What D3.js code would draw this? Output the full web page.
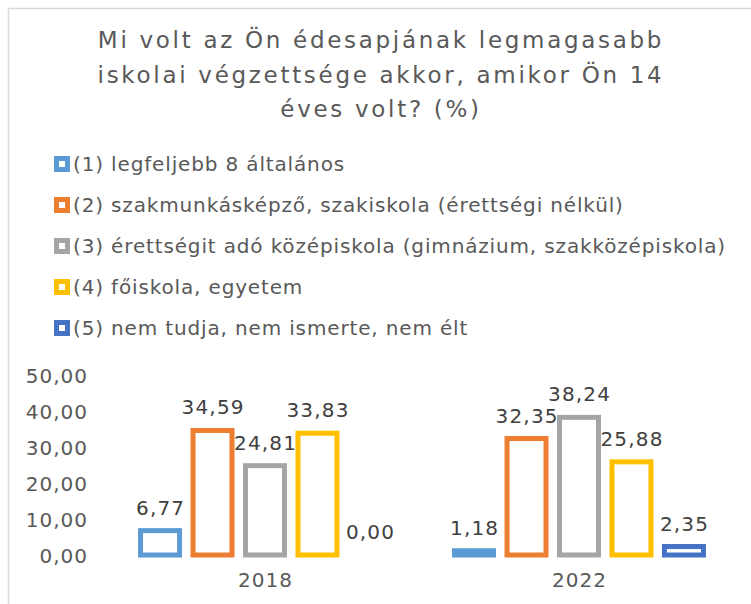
<html>
<head>
    <script src="https://d3js.org/d3.v7.min.js"></script>
    <style>
        body { margin: 0; background: #fff; }
        svg text { font-family: "DejaVu Sans", Verdana, sans-serif; }
        .axis path, .axis line { display: none; }
        .axis text { fill: #595959; font-size: 20px; letter-spacing: 1px; }
    </style>
</head>
<body>
<script>
    var titleLines = ["Mi volt az Ön édesapjának legmagasabb",
                      "iskolai végzettsége akkor, amikor Ön 14",
                      "éves volt? (%)"];
    var years = ["2018", "2022"];
    var series = ["(1) legfeljebb 8 általános",
                  "(2) szakmunkásképző, szakiskola (érettségi nélkül)",
                  "(3) érettségit adó középiskola (gimnázium, szakközépiskola)",
                  "(4) főiskola, egyetem",
                  "(5) nem tudja, nem ismerte, nem élt"];
    var colors = ["#5B9BD5", "#ED7D31", "#A5A5A5", "#FFC000", "#4472C4"];
    var values2018 = [6.77, 34.59, 24.81, 33.83, 0.00];
    var values2022 = [1.18, 32.35, 38.24, 25.88, 2.35];
    var yTicks = [0, 10, 20, 30, 40, 50];

    var values = [values2018, values2022];

    var width = 751, height = 604;

    var hu = d3.formatLocale({decimal: ",", thousands: " ", grouping: [3], currency: ["", " Ft"]});
    var fmt = hu.format(".2f");

    var svg = d3.select("body").append("svg")
        .attr("width", width)
        .attr("height", height);

    // chart frame (only top/left visible in the crop)
    svg.append("rect")
        .attr("x", 8.5).attr("y", 8.5)
        .attr("width", 800).attr("height", 700)
        .attr("fill", "none")
        .attr("stroke", "#d9d9d9")
        .attr("stroke-width", 1.5);

    // title
    svg.append("g").selectAll("text")
        .data(titleLines)
        .enter().append("text")
        .attr("x", 381)
        .attr("y", function (d, i) { return 48 + i * 34.5; })
        .attr("text-anchor", "middle")
        .attr("fill", "#595959")
        .style("font-size", "23px")
        .style("letter-spacing", "2.7px")
        .text(function (d) { return d; });

    // legend
    var legend = svg.append("g").selectAll("g")
        .data(series)
        .enter().append("g")
        .attr("transform", function (d, i) {
            return "translate(54," + (164 + i * 41) + ")";
        });

    legend.append("rect")
        .attr("x", 2.5).attr("y", -5.5)
        .attr("width", 11).attr("height", 11)
        .attr("fill", "#fff")
        .attr("stroke", function (d, i) { return colors[i]; })
        .attr("stroke-width", 5);

    legend.append("text")
        .attr("x", 19)
        .attr("y", 7)
        .attr("fill", "#595959")
        .style("font-size", "20px")
        .style("letter-spacing", "0.85px")
        .text(function (d) { return d; });

    // scales
    var x0 = d3.scaleBand()
        .domain(years)
        .range([108, 736]);

    var x1 = d3.scaleBand()
        .domain(d3.range(series.length))
        .range([0, x0.bandwidth()])
        .paddingInner(0.257)
        .paddingOuter(0.62);

    var y = d3.scaleLinear()
        .domain([0, 50])
        .range([555, 375]);

    svg.append("g")
        .attr("class", "axis")
        .attr("transform", "translate(88,0)")
        .call(d3.axisLeft(y).tickValues(yTicks).tickFormat(fmt).tickSize(0).tickPadding(0))
        .selectAll("text").attr("dy", "0.36em");

    svg.append("g")
        .attr("class", "axis")
        .attr("transform", "translate(0,568)")
        .call(d3.axisBottom(x0).tickSize(0).tickPadding(0))
        .selectAll("text").attr("dy", "0.95em").attr("dx", "0.5px");

    var groups = svg.append("g").selectAll("g")
        .data(values)
        .enter().append("g")
        .attr("transform", function (d, i) { return "translate(" + x0(years[i]) + ",0)"; });

    groups.selectAll("rect")
        .data(function (d) { return d; })
        .enter().append("rect")
        .filter(function (d) { return d > 0; })
        .attr("x", function (d, i) { return x1(i); })
        .attr("y", function (d) { return y(d); })
        .attr("width", x1.bandwidth())
        .attr("height", function (d) { return y(0) - y(d); })
        .attr("fill", "#fff")
        .attr("stroke", function (d, i) { return colors[i]; })
        .attr("stroke-width", 5);

    groups.selectAll("text")
        .data(function (d) { return d; })
        .enter().append("text")
        .attr("x", function (d, i) { return x1(i) + x1.bandwidth() / 2 + 0.6; })
        .attr("y", function (d) { return y(d) - 16; })
        .attr("text-anchor", "middle")
        .attr("fill", "#404040")
        .style("font-size", "20px")
        .style("letter-spacing", "1.2px")
        .text(function (d) { return fmt(d); });
</script>
</body>
</html>
